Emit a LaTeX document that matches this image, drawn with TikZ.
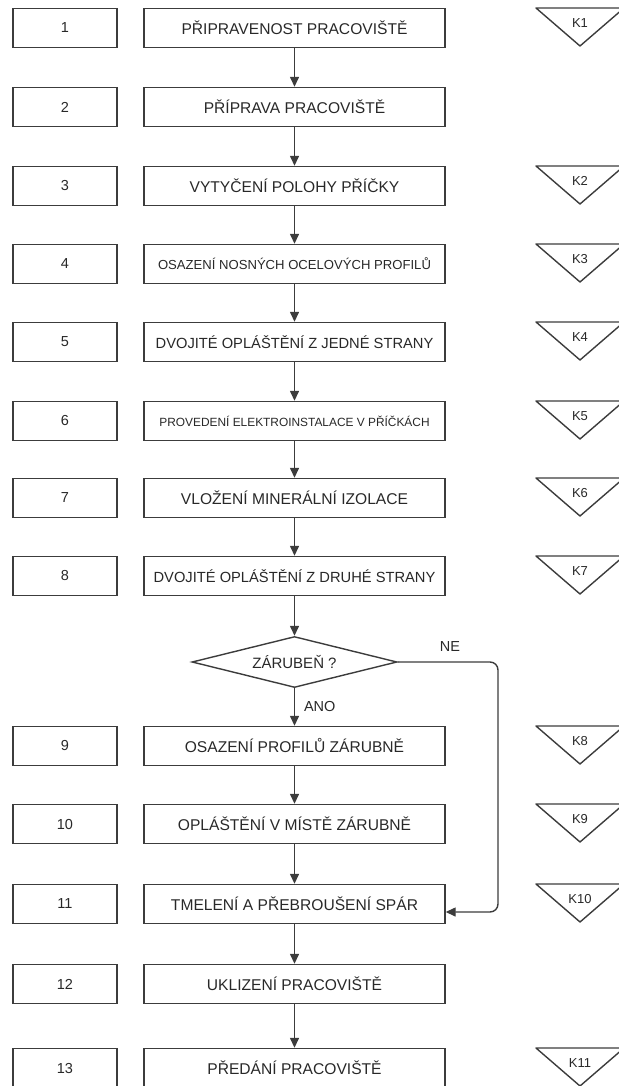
\documentclass[tikz,border=0pt]{standalone}
\usepackage{fontspec}
\setmainfont{Liberation Sans}
\usepackage{tikz}
\usetikzlibrary{shapes.geometric, arrows.meta, positioning, calc}
\definecolor{flowline}{RGB}{60, 60, 60}
\definecolor{flowtext}{RGB}{40, 40, 40}

\begin{document}
\begin{tikzpicture}[x=1pt, y=-1pt,
    numbox/.style={rectangle, draw=flowline, line width=1.4pt, minimum width=104pt,
        minimum height=39pt, inner sep=0pt, font=\fontsize{14.5}{17}\selectfont, text=flowtext},
    stepbox/.style={rectangle, draw=flowline, line width=1.4pt, minimum width=301pt,
        minimum height=39pt, inner sep=0pt, font=\fontsize{15.6}{18}\selectfont, text=flowtext},
    decide/.style={diamond, aspect=4, draw=flowline, line width=1.4pt, minimum width=205pt,
        minimum height=51pt, inner sep=0pt, font=\fontsize{15}{18}\selectfont, text=flowtext},
    klabel/.style={font=\fontsize{13}{15}\selectfont, text=flowtext},
    arr/.style={-{Triangle[length=10pt, width=9pt]}, line width=1.4pt, flowline},
    wide/.style={font=\fontsize{14.7}{17}\selectfont},
    small/.style={font=\fontsize{13.1}{16}\selectfont},
    tiny/.style={font=\fontsize{11.9}{14}\selectfont}
]
\useasboundingbox (0,0) rectangle (618,1086);

% Number boxes
\node[numbox] (n1) at (65, 28) {1};
\node[numbox] (n2) at (65, 107) {2};
\node[numbox] (n3) at (65, 186) {3};
\node[numbox] (n4) at (65, 264) {4};
\node[numbox] (n5) at (65, 342) {5};
\node[numbox] (n6) at (65, 421) {6};
\node[numbox] (n7) at (65, 498) {7};
\node[numbox] (n8) at (65, 576) {8};
\node[numbox] (n9) at (65, 746) {9};
\node[numbox] (n10) at (65, 824) {10};
\node[numbox] (n11) at (65, 904) {11};
\node[numbox] (n12) at (65, 984) {12};
\node[numbox] (n13) at (65, 1068) {13};

% Work steps
\node[stepbox] (s1) at (294.5, 28) {PŘIPRAVENOST PRACOVIŠTĚ};
\node[stepbox] (s2) at (294.5, 107) {PŘÍPRAVA PRACOVIŠTĚ};
\node[stepbox] (s3) at (294.5, 186) {VYTYČENÍ POLOHY PŘÍČKY};
\node[stepbox, small] (s4) at (294.5, 264) {OSAZENÍ NOSNÝCH OCELOVÝCH PROFILŮ};
\node[stepbox, wide] (s5) at (294.5, 342) {DVOJITÉ OPLÁŠTĚNÍ Z JEDNÉ STRANY};
\node[stepbox, tiny] (s6) at (294.5, 421) {PROVEDENÍ ELEKTROINSTALACE V PŘÍČKÁCH};
\node[stepbox] (s7) at (294.5, 498) {VLOŽENÍ MINERÁLNÍ IZOLACE};
\node[stepbox, wide] (s8) at (294.5, 576) {DVOJITÉ OPLÁŠTĚNÍ Z DRUHÉ STRANY};
\node[decide] (d1) at (294.5, 662) {ZÁRUBEŇ ?};
\node[stepbox] (s9) at (294.5, 746) {OSAZENÍ PROFILŮ ZÁRUBNĚ};
\node[stepbox] (s10) at (294.5, 824) {OPLÁŠTĚNÍ V MÍSTĚ ZÁRUBNĚ};
\node[stepbox] (s11) at (294.5, 904) {TMELENÍ A PŘEBROUŠENÍ SPÁR};
\node[stepbox] (s12) at (294.5, 984) {UKLIZENÍ PRACOVIŠTĚ};
\node[stepbox] (s13) at (294.5, 1068) {PŘEDÁNÍ PRACOVIŠTĚ};

% Arrows down the main column
\foreach \a/\b in {s1/s2, s2/s3, s3/s4, s4/s5, s5/s6, s6/s7, s7/s8, s8/d1, d1/s9, s9/s10, s10/s11, s11/s12, s12/s13}
    \draw[arr] (\a.south) -- (\b.north);

% Branch labels
\node[klabel, font=\fontsize{14.5}{17}\selectfont, right=6pt] (ano) at ($(d1.south)!0.5!(s9.north)$) {ANO};
\node[klabel, font=\fontsize{14.5}{17}\selectfont] (ne) at (450, 647) {NE};

% Bypass when there is no door frame
\coordinate (bend) at (498, 662);
\draw[arr, rounded corners=8pt] (d1.east) -- (bend) |- ([yshift=-8pt]s11.east);

% Control points
\foreach \k/\y in {K1/8, K2/166, K3/244, K4/322, K5/401, K6/478, K7/556, K8/726, K9/804, K10/884, K11/1048} {
    \draw[flowline, line width=1.4pt, line join=round] (536, \y) -- (624, \y) -- (580, \y+38) -- cycle;
    \node[klabel] (\k) at (580, \y+15) {\k};
}

\end{tikzpicture}
\end{document}
